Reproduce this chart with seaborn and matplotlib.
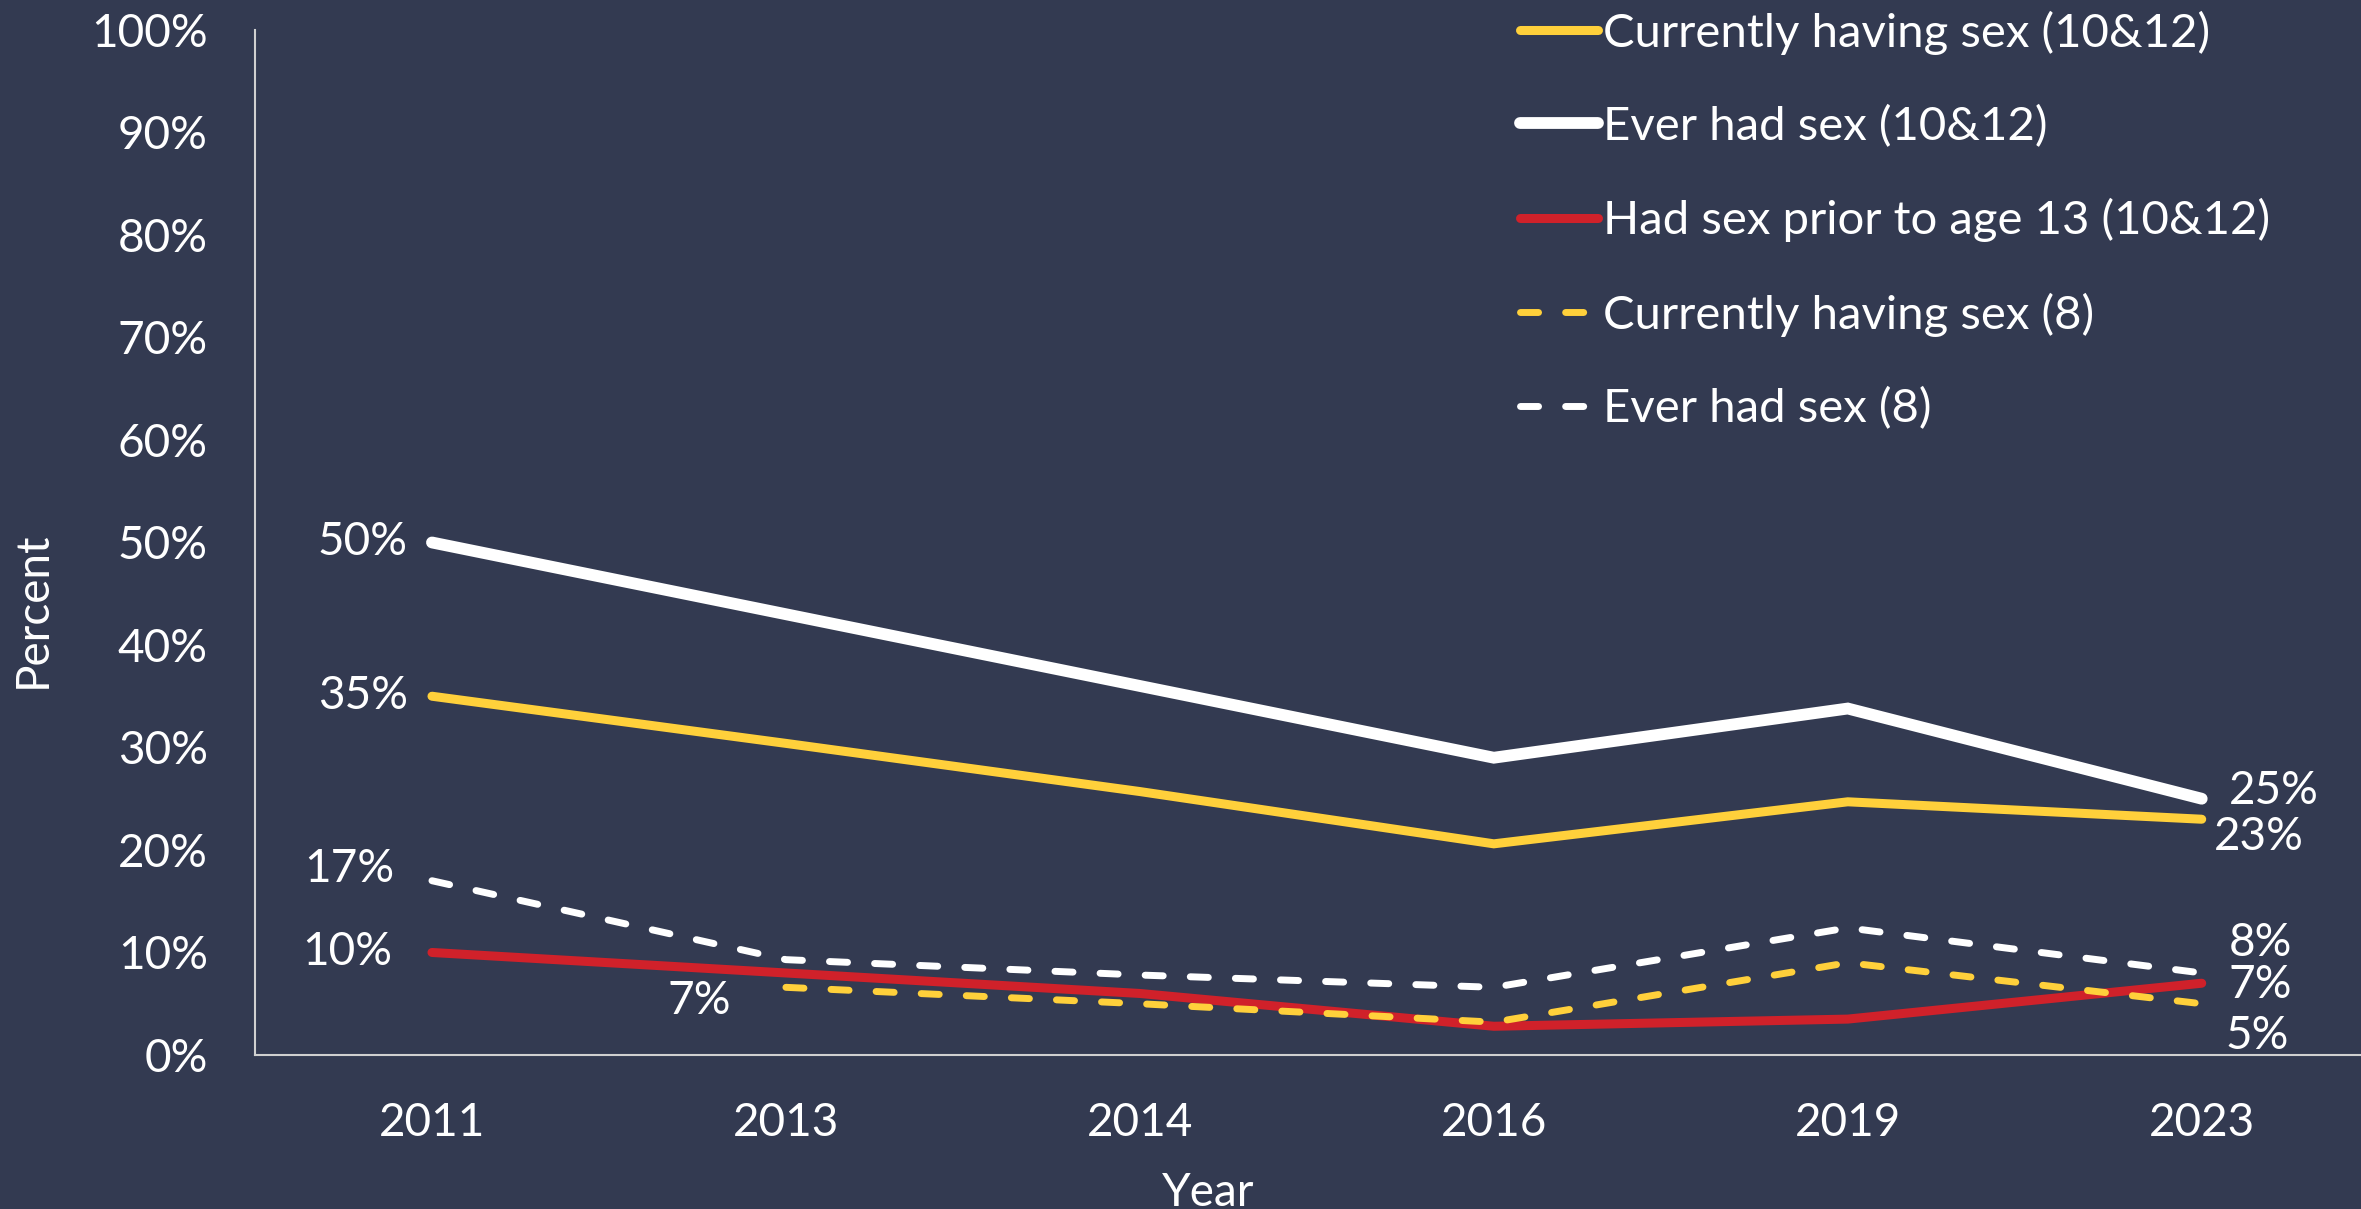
import numpy as np
import pandas as pd
import matplotlib
matplotlib.use("Agg")
import matplotlib.pyplot as plt
import seaborn as sns

# chart data
years = ["2011", "2013", "2014", "2016", "2019", "2023"]
current_10_12 = [35, 30.4, 25.7, 20.6, 24.7, 23]
ever_10_12 = [50, 43, 36, 29, 33.8, 25]
prior13_10_12 = [10, 8, 6, 2.8, 3.5, 7]
current_8 = [np.nan, 6.6, 5, 3.2, 9, 5]
ever_8 = [17, 9.3, 7.8, 6.6, 12.4, 8]

bg = "#333a51"
yellow = "#ffd03b"
red = "#d0212a"
white = "#ffffff"
fs = 33

sns.set_theme(style="white")
plt.rcParams["font.family"] = ["Lato", "DejaVu Sans"]

fig = plt.figure(figsize=(23.61, 12.09), dpi=100, facecolor=bg)
ax = fig.add_axes([0.108, 0.1274, 0.8995, 0.8478])
ax.set_facecolor(bg)

x = np.arange(len(years))
dash = (0, (2.6, 3.9))
series = [
    ("Currently having sex (10&12)", current_10_12, yellow, 6.5, "-"),
    ("Ever had sex (10&12)", ever_10_12, white, 8.5, "-"),
    ("Had sex prior to age 13 (10&12)", prior13_10_12, red, 6.5, "-"),
    ("Currently having sex (8)", current_8, yellow, 5, dash),
    ("Ever had sex (8)", ever_8, white, 5, dash),
]
for name, vals, col, lw, ls in series:
    df = pd.DataFrame({"x": x, "y": vals}).dropna()
    sns.lineplot(data=df, x="x", y="y", ax=ax, color=col, linewidth=lw,
                 linestyle=ls, label=name, solid_capstyle="round",
                 dash_capstyle="round", solid_joinstyle="miter")

# point labels (offsets in pixels)
labels = [
    (0, ever_10_12[0], "50%", -24, 0, "right"),
    (0, current_10_12[0], "35%", -24, 0, "right"),
    (0, ever_8[0], "17%", -38, 12, "right"),
    (0, prior13_10_12[0], "10%", -40, 0, "right"),
    (1, current_8[1], "7%", -87, -14, "center"),
    (5, ever_10_12[5], "25%", 27, 8, "left"),
    (5, current_10_12[5], "23%", 12, -18, "left"),
    (5, ever_8[5], "8%", 27, 30, "left"),
    (5, prior13_10_12[5], "7%", 27, -2, "left"),
    (5, current_8[5], "5%", 24, -32, "left"),
]
for xi, yi, txt, dx, dy, ha in labels:
    ax.annotate(txt, (xi, yi), xytext=(dx, dy), textcoords="offset pixels",
                ha=ha, va="center", color="white", fontsize=fs)

ax.set_xlim(-0.5, 5.5)
ax.set_ylim(0, 100)
ax.set_xticks(x)
ax.set_xticklabels(years)
ax.set_yticks(range(0, 101, 10))
ax.set_yticklabels([f"{v}%" for v in range(0, 101, 10)])
ax.tick_params(axis="both", colors="white", labelsize=fs, length=0, pad=34)
for s in ["top", "right"]:
    ax.spines[s].set_visible(False)
for s in ["left", "bottom"]:
    ax.spines[s].set_color("#d0d0d0")
    ax.spines[s].set_linewidth(1.5)

ax.set_xlabel("Year", color="white", fontsize=fs)
ax.set_ylabel("Percent", color="white", fontsize=fs)
ax.xaxis.set_label_coords(0.449, -0.114)
ax.yaxis.set_label_coords(-0.0946, 0.434)

leg = ax.legend(loc="upper left", bbox_to_anchor=(0.636, 1.007), bbox_transform=fig.transFigure,
                frameon=False, fontsize=34, handlelength=1.65, handletextpad=0.1,
                labelspacing=1.065, borderaxespad=0.0)
for t in leg.get_texts():
    t.set_color("white")

fig.savefig("out.png", dpi=100, facecolor=bg)
